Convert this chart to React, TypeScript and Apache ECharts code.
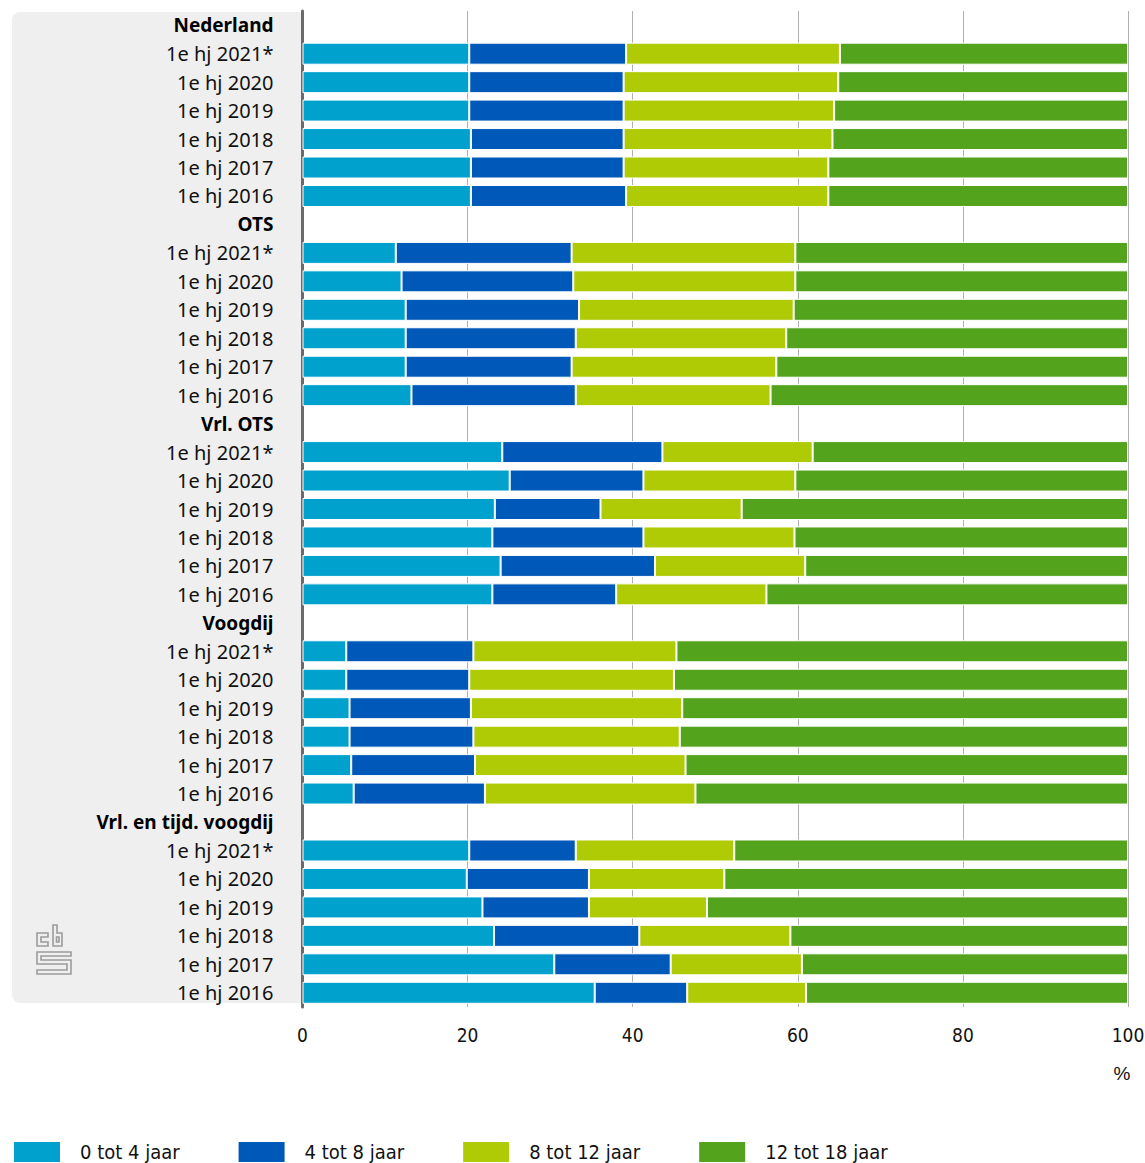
import React, { useEffect, useRef } from "react";
import * as echarts from "echarts";

const groups = ["Nederland", "OTS", "Vrl. OTS", "Voogdij", "Vrl. en tijd. voogdij"];
const years = ["1e hj 2021*", "1e hj 2020", "1e hj 2019", "1e hj 2018", "1e hj 2017", "1e hj 2016"];
const seriesNames = ["0 tot 4 jaar", "4 tot 8 jaar", "8 tot 12 jaar", "12 tot 18 jaar"];
const colors = ["#00a1cd", "#0058b8", "#afcb05", "#53a31d"];
const xTicks = [0, 20, 40, 60, 80, 100];

// values per group, years in order 2021*, 2020, 2019, 2018, 2017, 2016
const age0to4 = [
  20.2, 20.2, 20.2, 20.4, 20.4, 20.4,
  11.3, 12.0, 12.5, 12.5, 12.5, 13.2,
  24.2, 25.1, 23.3, 23.0, 24.0, 23.0,
  5.3, 5.3, 5.7, 5.7, 5.9, 6.2,
  20.2, 19.9, 21.8, 23.2, 30.5, 35.4,
];
const age4to8 = [
  19.0, 18.7, 18.7, 18.5, 18.5, 18.8,
  21.3, 20.8, 21.0, 20.6, 20.1, 19.9,
  19.4, 16.2, 12.8, 18.3, 18.7, 15.0,
  15.4, 14.9, 14.7, 15.0, 15.0, 15.9,
  12.9, 14.8, 12.9, 17.6, 14.1, 11.2,
];
const age8to12 = [
  25.9, 26.0, 25.5, 25.3, 24.8, 24.5,
  27.1, 26.9, 26.0, 25.5, 24.8, 23.6,
  18.2, 18.4, 17.1, 18.3, 18.2, 18.2,
  24.6, 24.8, 25.6, 25.0, 25.5, 25.5,
  19.2, 16.4, 14.3, 18.3, 15.9, 14.4,
];
const age12to18 = [
  34.9, 35.1, 35.6, 35.8, 36.3, 36.3,
  40.3, 40.3, 40.5, 41.4, 42.6, 43.3,
  38.2, 40.3, 46.8, 40.4, 39.1, 43.8,
  54.7, 55.0, 54.0, 54.3, 53.6, 52.4,
  47.7, 48.9, 51.0, 40.9, 39.5, 39.0,
];

const FONT = "'Noto Sans', 'DejaVu Sans', sans-serif";
const NARROW = "'DejaVu Sans Condensed', 'Liberation Sans Narrow', 'Noto Sans', sans-serif";

export default function App() {
  const ref = useRef<HTMLDivElement>(null);
  useEffect(() => {
    document.body.style.margin = "0";
    if (!ref.current) return;
    const chart = echarts.init(ref.current, null, { renderer: "svg" });

    const categories: string[] = [];
    const isHeader: boolean[] = [];
    const allSeries = [age0to4, age4to8, age8to12, age12to18];
    const rows: (number | null)[][] = [[], [], [], []];
    groups.forEach((g, gi) => {
      categories.push(g);
      isHeader.push(true);
      rows.forEach((r) => r.push(null));
      years.forEach((y, yi) => {
        categories.push(y);
        isHeader.push(false);
        rows.forEach((r, si) => r.push(allSeries[si][gi * years.length + yi]));
      });
    });

    const logoStyle = { fill: "none", stroke: "#9c9c9c", lineWidth: 1.6 };

    chart.setOption({
      animation: false,
      grid: { left: 302.5, right: 17, top: 11, height: 996, containLabel: false, outerBoundsMode: "none" },
      xAxis: {
        type: "value",
        min: 0,
        max: 100,
        interval: 20,
        axisLine: { show: false },
        axisTick: { show: false },
        splitLine: { show: true, lineStyle: { color: "#b0b0b0", width: 1 } },
        axisLabel: {
          margin: 18,
          fontSize: 19,
          color: "#111",
          fontFamily: NARROW,
          formatter: (v: number) => (xTicks.includes(v) ? String(v) : ""),
        },
      },
      yAxis: {
        type: "category",
        inverse: true,
        data: categories,
        axisLine: { show: true, lineStyle: { color: "#6a6a6a", width: 3 } },
        axisTick: { show: false },
        axisLabel: {
          margin: 29,
          fontSize: 20,
          color: "#111",
          fontFamily: FONT,
          interval: 0,
          formatter: (v: string, i: number) => (isHeader[i] ? `{b|${v}}` : v),
          rich: {
            b: { fontWeight: "bold", fontSize: 19, color: "#000", fontFamily: FONT },
          },
        },
      },
      legend: {
        left: 12,
        top: 1140,
        padding: 0,
        itemWidth: 48,
        itemHeight: 22,
        itemGap: 57,
        icon: "rect",
        textStyle: { fontSize: 20, lineHeight: 22, color: "#111", fontFamily: NARROW, padding: [0, 0, 0, 14] },
        data: seriesNames,
      },
      graphic: [
        {
          type: "rect",
          z: -10,
          shape: { x: 12, y: 12, width: 290, height: 991, r: [8, 0, 0, 8] },
          style: { fill: "#efefef" },
        },
        {
          type: "text",
          x: 1122,
          y: 1073,
          style: { text: "%", fontSize: 19, fill: "#111", font: `19px ${NARROW}`, align: "center", verticalAlign: "middle" },
        },
        {
          type: "polygon",
          shape: { points: [[37, 933], [48, 933], [48, 937], [41, 937], [41, 942], [48, 942], [48, 946], [37, 946]] },
          style: logoStyle,
        },
        {
          type: "polygon",
          shape: { points: [[53, 925], [57, 925], [57, 933], [62, 933], [62, 946], [53, 946]] },
          style: logoStyle,
        },
        {
          type: "rect",
          shape: { x: 56.5, y: 937, width: 2.5, height: 5 },
          style: logoStyle,
        },
        {
          type: "polygon",
          shape: {
            points: [
              [37, 952], [71, 952], [71, 956], [41, 956], [41, 960], [71, 960], [71, 974],
              [37, 974], [37, 970], [67, 970], [67, 964], [37, 964],
            ],
          },
          style: logoStyle,
        },
      ],
      series: seriesNames.map((name, si) => ({
        name,
        type: "bar",
        stack: "total",
        barWidth: 22,
        data: rows[si],
        itemStyle: { color: colors[si], borderColor: "#ffffff", borderWidth: 1 },
      })),
    });
    return () => chart.dispose();
  }, []);
  return <div ref={ref} style={{ width: 1145, height: 1163 }} />;
}
